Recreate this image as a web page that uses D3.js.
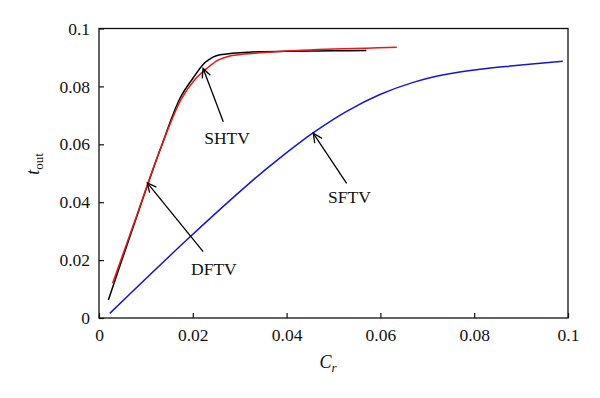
<!DOCTYPE html>
<html>
<head>
<meta charset="utf-8">
<script src="https://cdn.jsdelivr.net/npm/d3@7"></script>
<style>
body { margin: 0; background: #fff; }
text { font-family: "Liberation Serif", "DejaVu Serif", serif; fill: #111; }
</style>
</head>
<body>
<svg id="view"></svg>
<script>
// SHTV (black)
var shtvX = [0.0020, 0.0073, 0.0130, 0.0173, 0.0201, 0.0222, 0.0235, 0.0244, 0.0258, 0.0272, 0.0300, 0.0343, 0.0400, 0.0450, 0.0500, 0.0570];
var shtvY = [0.0062, 0.0315, 0.0580, 0.0760, 0.0830, 0.0876, 0.0893, 0.0902, 0.0909, 0.0912, 0.0916, 0.0920, 0.0921, 0.0922, 0.0923, 0.0924];
// DFTV (red)
var dftvX = [0.0029, 0.0073, 0.0130, 0.0175, 0.0205, 0.0230, 0.0254, 0.0279, 0.0310, 0.0343, 0.0400, 0.0450, 0.0500, 0.0570, 0.0635];
var dftvY = [0.0120, 0.0320, 0.0580, 0.0755, 0.0825, 0.0862, 0.0891, 0.0905, 0.0912, 0.0916, 0.0922, 0.0926, 0.0929, 0.0932, 0.0935];
// SFTV (blue)
var sftvX = [0.0023, 0.0192, 0.0329, 0.0386, 0.0457, 0.0528, 0.0599, 0.0670, 0.0741, 0.0812, 0.0883, 0.0989];
var sftvY = [0.0016, 0.0277, 0.0477, 0.0553, 0.0640, 0.0714, 0.0772, 0.0814, 0.0842, 0.0859, 0.0871, 0.0887];

var xTicks = [0, 0.02, 0.04, 0.06, 0.08, 0.1];
var yTicks = [0, 0.02, 0.04, 0.06, 0.08, 0.1];

// annotations: label, label position, arrow tail, arrow tip (data units)
var labels = ["SHTV", "DFTV", "SFTV"];
var labelPos = [[0.0273, 0.0601], [0.0245, 0.0149], [0.0534, 0.0396]];
var arrowTail = [[0.0265, 0.0678], [0.0222, 0.0229], [0.0528, 0.0465]];
var arrowTip = [[0.0222, 0.0862], [0.0103, 0.0467], [0.0457, 0.0638]];

var width = 600, height = 398;
var mLeft = 99, mRight = 568, mTop = 28.5, mBottom = 318;

var svg = d3.select("#view").attr("width", width).attr("height", height);
svg.append("rect").attr("width", width).attr("height", height).attr("fill", "#fff");

var x = d3.scaleLinear().domain([0, 0.1]).range([mLeft, mRight]);
var y = d3.scaleLinear().domain([0, 0.1]).range([mBottom, mTop]);

var fmt = d => d === 0 ? "0" : d3.format("~g")(d);

// axes with inward ticks
var gx = svg.append("g").attr("transform", "translate(0," + mBottom + ")")
	.call(d3.axisBottom(x).tickValues(xTicks).tickFormat(fmt).tickSizeInner(-5).tickSizeOuter(0).tickPadding(8));
var gy = svg.append("g").attr("transform", "translate(" + mLeft + ",0)")
	.call(d3.axisLeft(y).tickValues(yTicks).tickFormat(fmt).tickSizeInner(-5).tickSizeOuter(0).tickPadding(9));
[gx, gy].forEach(g => {
	g.select(".domain").remove();
	g.selectAll("line").attr("stroke", "#111").attr("stroke-width", 1.2);
	g.selectAll("text").attr("font-family", "Liberation Serif").attr("font-size", 17.5).attr("fill", "#111");
});
gx.selectAll("text").attr("dy", "0.85em");

// frame
svg.append("rect")
	.attr("x", mLeft).attr("y", mTop)
	.attr("width", mRight - mLeft).attr("height", mBottom - mTop)
	.attr("fill", "none").attr("stroke", "#111").attr("stroke-width", 1.3);

var line = d3.line().x(d => x(d[0])).y(d => y(d[1])).curve(d3.curveCatmullRom.alpha(0.5));

var series = [
	{ xs: shtvX, ys: shtvY, color: "#000" },
	{ xs: dftvX, ys: dftvY, color: "#ee1515" },
	{ xs: sftvX, ys: sftvY, color: "#1515d8" }
];
series.forEach(s => {
	svg.append("path")
		.datum(d3.zip(s.xs, s.ys))
		.attr("d", line)
		.attr("fill", "none")
		.attr("stroke", s.color)
		.attr("stroke-width", 1.5);
});

// arrows + labels
labels.forEach((name, i) => {
	var x1 = x(arrowTail[i][0]), y1 = y(arrowTail[i][1]);
	var x2 = x(arrowTip[i][0]), y2 = y(arrowTip[i][1]);
	svg.append("line")
		.attr("x1", x1).attr("y1", y1).attr("x2", x2).attr("y2", y2)
		.attr("stroke", "#000").attr("stroke-width", 1.3);
	var a = Math.atan2(y1 - y2, x1 - x2), len = 10, sp = 0.45;
	svg.append("path")
		.attr("d", "M" + (x2 + len * Math.cos(a + sp)) + "," + (y2 + len * Math.sin(a + sp)) +
			"L" + x2 + "," + y2 +
			"L" + (x2 + len * Math.cos(a - sp)) + "," + (y2 + len * Math.sin(a - sp)))
		.attr("fill", "none").attr("stroke", "#000").attr("stroke-width", 1.3);
	svg.append("text")
		.attr("x", x(labelPos[i][0])).attr("y", y(labelPos[i][1]))
		.attr("text-anchor", "middle").attr("font-size", 17.5)
		.text(name);
});

// axis titles
var xt = svg.append("text").attr("x", 328).attr("y", 368).attr("text-anchor", "middle").attr("font-size", 18);
xt.append("tspan").attr("font-style", "italic").text("C");
xt.append("tspan").attr("font-style", "italic").attr("font-size", 13).attr("dy", 4).text("r");

var yt = svg.append("text").attr("transform", "translate(39,164) rotate(-90)").attr("text-anchor", "middle").attr("font-size", 18);
yt.append("tspan").attr("font-style", "italic").text("t");
yt.append("tspan").attr("font-size", 13).attr("dy", 4).text("out");
</script>
</body>
</html>
